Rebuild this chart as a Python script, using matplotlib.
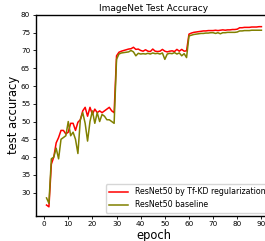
import matplotlib
matplotlib.use("Agg")
import matplotlib.pyplot as plt

epochs = list(range(1, 91))

tfkd_acc = [
    26.5, 26.0, 38.0, 40.0, 44.0, 45.5, 47.5, 47.5, 46.5, 47.0,
    49.5, 49.5, 47.5, 49.8, 50.5, 53.0, 54.0, 51.5, 54.0, 52.0,
    53.5, 52.5, 53.0, 52.5, 53.0, 53.5, 54.0, 53.0, 52.5, 68.5,
    69.5, 69.8, 70.0, 70.2, 70.4, 70.5, 70.9, 70.3, 70.4, 70.0,
    69.8, 70.2, 69.8, 69.7, 70.4, 69.8, 69.7, 69.8, 70.3, 69.8,
    69.6, 69.8, 69.9, 69.7, 70.3, 69.8, 70.3, 69.8, 69.9, 74.6,
    74.9, 75.1, 75.2, 75.3, 75.4, 75.5, 75.5, 75.6, 75.6, 75.6,
    75.7, 75.6, 75.7, 75.8, 75.7, 75.8, 75.8, 75.9, 75.9, 76.0,
    76.4, 76.4, 76.5, 76.5, 76.5, 76.6, 76.6, 76.6, 76.7, 76.7,
]

baseline_acc = [
    28.5, 27.0, 39.5, 40.0, 42.5, 39.5, 45.0, 45.5, 46.0, 50.0,
    46.0, 47.0, 45.0, 41.0, 50.5, 52.5, 49.5, 44.5, 50.0, 53.0,
    49.5, 52.5, 50.0, 52.0, 51.5, 50.5, 50.5, 50.0, 49.5, 67.5,
    69.0, 69.3, 69.4, 69.5, 69.6, 70.0, 69.6, 68.5, 69.2, 69.0,
    69.1, 69.0, 69.2, 69.0, 69.3, 69.1, 69.2, 69.0, 69.3, 67.5,
    69.0, 69.2, 69.1, 69.4, 69.0, 69.3, 68.5, 69.1, 68.0, 74.1,
    74.3, 74.5, 74.6, 74.7, 74.8, 74.8, 74.9, 74.9, 75.0, 75.0,
    74.8, 75.0, 74.7, 75.0, 75.0, 75.1, 75.1, 75.1, 75.1, 75.2,
    75.5, 75.5, 75.6, 75.6, 75.6, 75.7, 75.7, 75.7, 75.7, 75.7,
]

fig = plt.figure(figsize=(2.65, 2.41), dpi=100)
ax = fig.add_axes([0.135, 0.105, 0.892, 0.833])

ax.plot(epochs, tfkd_acc, color="red", linewidth=1.1,
        label="ResNet50 by Tf-KD regularization")
ax.plot(epochs, baseline_acc, color="olive", linewidth=1.1,
        label="ResNet50 baseline")

ax.set_xlim(-3.45, 94.45)
ax.set_ylim(23.5, 80)
ax.set_xticks(range(0, 100, 10))
ax.set_yticks(range(30, 85, 5))
ax.tick_params(labelsize=5.2, length=2.5, width=0.6, pad=1.5)
for s in ax.spines.values():
    s.set_linewidth(1.0)

ax.set_title("ImageNet Test Accuracy", fontsize=6.5, pad=3)
ax.set_xlabel("epoch", fontsize=8.3, labelpad=1)
ax.set_ylabel("test accuracy", fontsize=8.3, labelpad=1)
ax.legend(loc="lower right", fontsize=5.7, handlelength=2.4,
          handletextpad=0.9, borderaxespad=0.4)

fig.savefig("out.png", dpi=100)
